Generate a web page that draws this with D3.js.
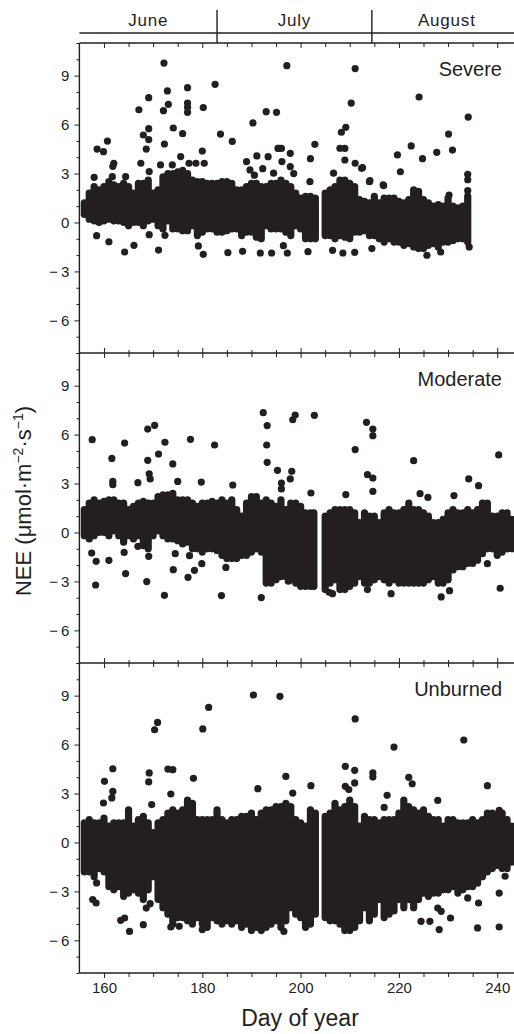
<!DOCTYPE html>
<html>
<head>
<meta charset="utf-8">
<script src="https://cdn.jsdelivr.net/npm/d3@7"></script>
<style>
  body { margin: 0; background: #fff; }
  svg { display: block; font-family: "Liberation Sans", Arial, sans-serif; }
</style>
</head>
<body>
<svg id="chart" width="514" height="1034"></svg>
<script>
// month header
const months = ["June", "July", "August"];
const monthEdges = [155, 183, 214.5, 245];
const panelNames = ["Severe", "Moderate", "Unburned"];
const xTickValues = d3.range(160, 245, 5);
const xLabelValues = [160, 180, 200, 220, 240];
const yTickValues = d3.range(-8, 12, 1);
const yLabelValues = [-6, -3, 0, 3, 6, 9];

// dense core of each panel: [day, low, high] (NEE)
const severeBands = [
  [156, 0.5, 1.2], [157, 0.2, 1.8], [158, 0.1, 2.2], [159, 0.0, 2.0], [160, 0.1, 2.2],
  [161, 0.2, 2.5], [162, 0.1, 2.3], [163, 0.1, 2.2], [164, 0.0, 2.4], [165, -0.2, 2.2],
  [166, 0.0, 1.8], [167, 0.0, 2.4], [168, -0.2, 2.4], [169, 0.1, 2.6], [170, 0.2, 1.8],
  [171, -0.2, 2.0], [172, -0.4, 2.8], [173, 0.1, 3.0], [174, -0.4, 3.0], [175, -0.4, 3.1],
  [176, -0.5, 3.2], [177, -0.5, 3.0], [178, -0.2, 2.6], [179, -0.8, 2.5], [180, -0.6, 2.5],
  [181, -0.4, 2.4], [182, -0.4, 2.4], [183, -0.6, 2.4], [184, -0.6, 2.5], [185, -0.5, 2.5],
  [186, -0.4, 2.4], [187, -0.4, 2.0], [188, -0.8, 2.0], [189, -0.6, 2.2], [190, -0.6, 2.4],
  [191, -0.9, 2.4], [192, -1.0, 2.2], [193, -0.2, 2.2], [194, -0.4, 2.4], [195, -0.4, 2.4],
  [196, -0.4, 2.6], [197, -0.6, 2.4], [198, -0.8, 2.2], [199, -0.2, 1.8], [200, -0.4, 1.5],
  [201, -1.0, 1.6], [202, -1.0, 1.6], [203, -1.0, 1.5],
  [205, -0.8, 1.8], [206, -0.8, 2.0], [207, -1.0, 2.2], [208, -0.8, 2.6], [209, -0.9, 2.6],
  [210, -1.0, 2.4], [211, -0.6, 2.2], [212, -0.6, 1.4], [213, -0.5, 1.3], [214, -0.8, 1.2],
  [215, -0.8, 1.6], [216, -1.0, 1.2], [217, -1.2, 1.5], [218, -1.0, 1.5], [219, -1.2, 1.5],
  [220, -1.2, 1.3], [221, -1.4, 1.2], [222, -1.3, 1.4], [223, -1.5, 2.0], [224, -1.6, 1.9],
  [225, -1.6, 1.4], [226, -1.4, 1.2], [227, -1.3, 1.0], [228, -1.5, 1.1], [229, -1.2, 1.0],
  [230, -1.2, 1.5], [231, -1.1, 1.0], [232, -1.0, 0.9], [233, -1.0, 1.0], [234, -1.2, 1.6]
];
const severeDots = [
  [172.2, 9.77], [197.2, 9.61], [211.1, 9.43], [182.6, 8.47], [177.0, 8.26], [172.9, 8.06],
  [169.1, 7.65], [224.1, 7.69], [173.1, 7.24], [167.1, 6.91], [172.1, 6.85], [177.0, 7.32],
  [177.0, 7.06], [177.0, 6.75], [180.2, 7.04], [193.0, 6.79], [195.1, 6.75], [210.3, 7.32],
  [234.1, 6.46], [190.3, 6.10], [169.1, 5.75], [174.1, 5.79], [168.0, 5.36], [169.1, 5.08],
  [168.6, 4.50], [176.0, 5.44], [183.7, 5.42], [186.1, 4.97], [209.2, 5.83], [208.3, 5.53],
  [230.1, 5.42], [160.7, 4.99], [158.6, 4.50], [159.9, 4.34], [172.3, 4.81], [202.9, 4.79],
  [222.5, 4.69], [230.9, 4.44], [227.7, 4.30], [219.7, 4.14], [180.0, 4.38], [195.4, 4.54],
  [196.1, 4.54], [209.0, 4.54], [202.0, 3.91], [224.8, 3.91], [212.6, 3.36], [220.3, 3.11],
  [234.0, 2.95], [234.0, 2.62], [234.0, 1.95], [214.1, 2.56], [216.9, 2.26], [230.2, 1.68],
  [158.0, 2.77], [161.8, 3.44], [162.0, 3.63], [167.5, 3.63], [169.2, 3.12], [164.4, 2.81],
  [161.7, 2.81], [171.5, 3.53], [173.9, 3.53], [175.6, 4.04], [177.3, 3.63], [178.7, 3.63],
  [180.4, 3.63], [189.0, 3.73], [191.1, 4.08], [193.4, 4.03], [195.5, 4.55], [197.9, 4.24],
  [196.2, 3.73], [197.9, 3.42], [189.7, 3.22], [194.5, 3.02], [208.0, 4.55], [209.0, 3.83],
  [211.1, 3.63], [212.4, 3.32], [214.0, 2.50], [216.8, 2.30], [206.7, 3.02], [201.9, 2.50],
  [190.6, 2.9], [192.3, 3.3], [198.6, 3.0],
  [158.5, -0.81], [161.0, -1.18], [164.2, -1.81], [166.1, -1.40], [171.1, -1.69], [172.4, -0.79],
  [169.2, -0.75], [180.2, -1.95], [179.2, -1.44], [185.2, -1.85], [188.2, -1.77], [191.8, -1.87],
  [194.1, -1.87], [197.3, -1.87], [196.5, -1.42], [201.5, -1.79], [206.5, -1.71], [208.6, -1.87],
  [211.0, -1.83], [214.5, -1.60], [225.7, -2.01], [228.5, -1.81], [234.3, -1.50]
];

const moderateBands = [
  [156, -0.2, 1.4], [157, -0.4, 1.8], [158, -0.2, 2.0], [159, 0.0, 1.8], [160, 0.0, 1.9],
  [161, -0.2, 2.0], [162, 0.1, 2.0], [163, -0.2, 1.8], [164, -0.6, 1.8], [165, -0.2, 1.4],
  [166, -0.4, 1.6], [167, -0.2, 1.8], [168, -0.8, 1.9], [169, -1.0, 1.8], [170, -0.2, 1.8],
  [171, 0.1, 2.2], [172, -0.2, 2.3], [173, -0.4, 2.3], [174, -0.4, 2.4], [175, -0.5, 2.0],
  [176, -0.7, 2.0], [177, -0.6, 2.0], [178, -1.0, 1.8], [179, -1.0, 1.6], [180, -1.2, 1.8],
  [181, -1.0, 1.8], [182, -1.0, 1.9], [183, -1.1, 1.8], [184, -1.4, 2.0], [185, -1.6, 1.8],
  [186, -1.6, 2.0], [187, -1.6, 1.4], [188, -1.4, 1.0], [189, -1.4, 1.8], [190, -1.2, 2.2],
  [191, -1.0, 2.2], [192, -1.2, 1.8], [193, -3.1, 2.0], [194, -3.1, 1.8], [195, -2.9, 1.6],
  [196, -2.7, 2.0], [197, -2.7, 1.4], [198, -2.9, 1.8], [199, -3.1, 1.8], [200, -3.3, 1.6],
  [201, -3.3, 1.2], [202, -3.3, 1.2], [202.7, -3.3, 1.2],
  [205, -3.5, 1.0], [206, -3.1, 1.2], [207, -2.9, 1.4], [208, -3.5, 1.4], [209, -3.5, 1.4],
  [210, -3.3, 1.4], [211, -3.1, 1.2], [212, -2.7, 0.6], [213, -3.1, 1.2], [214, -3.1, 1.0],
  [215, -2.9, 1.0], [216, -2.7, 0.6], [217, -2.9, 1.2], [218, -3.1, 1.4], [219, -2.9, 1.2],
  [220, -3.1, 1.2], [221, -3.1, 1.4], [222, -3.1, 1.8], [223, -3.1, 1.4], [224, -3.1, 1.4],
  [225, -3.1, 1.2], [226, -2.9, 1.0], [227, -2.7, 0.6], [228, -3.1, 0.6], [229, -3.1, 0.8],
  [230, -2.9, 1.2], [231, -2.3, 1.4], [232, -2.1, 1.2], [233, -2.1, 1.2], [234, -1.9, 1.4],
  [235, -1.9, 1.2], [236, -1.7, 1.4], [237, -1.3, 1.8], [238, -1.0, 1.8], [239, -1.0, 1.0],
  [240, -1.4, 1.0], [241, -1.2, 1.2], [242, -1.0, 1.2], [243, -1.0, 0.8]
];
const moderateDots = [
  [157.6, 5.69], [161.6, 4.54], [164.2, 5.48], [161.8, 3.13], [161.8, 2.93], [166.9, 3.05],
  [168.9, 6.34], [170.3, 6.57], [168.9, 4.42], [171.1, 4.81], [169.2, 3.60], [169.4, 3.28],
  [172.4, 5.53], [174.0, 4.20], [175.0, 3.13], [177.6, 5.71], [179.8, 3.09], [182.5, 5.36],
  [186.2, 2.91], [192.4, 7.34], [193.2, 6.55], [193.1, 5.36], [193.2, 4.30], [195.3, 3.81],
  [196.1, 3.03], [196.1, 2.67], [198.4, 6.91], [198.9, 7.20], [202.8, 7.18], [198.2, 3.75],
  [197.9, 3.28], [202.1, 2.42], [211.1, 5.08], [213.4, 6.75], [214.7, 6.34], [214.7, 5.93],
  [213.6, 3.54], [214.7, 3.34], [214.7, 2.52], [209.2, 2.32], [223.0, 4.40], [224.3, 2.38],
  [225.9, 2.15], [231.2, 2.26], [234.2, 3.28], [236.2, 2.87], [240.3, 4.75],
  [157.5, -1.26], [158.4, -1.77], [158.3, -3.22], [161.0, -1.71], [164.4, -2.52], [164.1, -1.22],
  [166.9, -0.85], [168.7, -3.01], [169.1, -1.46], [172.3, -3.85], [174.1, -2.28], [174.5, -1.30],
  [177.4, -1.42], [177.1, -2.75], [178.4, -2.32], [179.9, -1.91], [183.9, -3.87], [184.8, -2.14],
  [192.0, -3.99], [197.5, -2.99], [205.8, -3.67], [206.5, -3.75], [213.6, -3.50], [218.4, -3.75],
  [228.6, -3.95], [230.3, -3.57], [238.0, -1.91], [240.6, -3.42]
];

const unburnedBands = [
  [156, -1.8, 1.2], [157, -1.8, 1.4], [158, -2.1, 1.2], [159, -1.6, 1.2], [160, -1.8, 1.5],
  [161, -2.7, 1.0], [162, -2.9, 1.2], [163, -2.7, 1.2], [164, -3.3, 1.2], [165, -3.1, 2.0],
  [166, -2.9, 1.0], [167, -3.1, 1.4], [168, -3.5, 1.6], [169, -2.9, 1.2], [170, -2.1, 0.6],
  [171, -3.5, 1.2], [172, -4.0, 1.4], [173, -4.4, 1.8], [174, -5.0, 2.0], [175, -4.6, 1.8],
  [176, -4.6, 2.0], [177, -4.8, 2.6], [178, -5.0, 2.4], [179, -4.6, 1.4], [180, -5.0, 1.4],
  [181, -5.2, 1.4], [182, -4.6, 1.4], [183, -4.8, 2.0], [184, -5.0, 1.4], [185, -4.8, 1.2],
  [186, -5.0, 1.4], [187, -4.8, 1.4], [188, -5.2, 1.6], [189, -5.0, 1.6], [190, -5.4, 1.8],
  [191, -5.2, 1.4], [192, -5.4, 1.8], [193, -5.2, 2.0], [194, -5.0, 2.0], [195, -4.8, 2.2],
  [196, -5.2, 2.2], [197, -4.8, 2.4], [198, -4.0, 2.2], [199, -4.4, 1.4], [200, -4.6, 1.2],
  [201, -5.2, 1.0], [202, -5.0, 2.0], [203, -4.4, 1.8],
  [205, -4.6, 1.6], [206, -4.8, 1.8], [207, -4.8, 2.4], [208, -5.0, 2.0], [209, -5.4, 2.2],
  [210, -5.4, 2.6], [211, -5.2, 2.2], [212, -4.8, 1.0], [213, -4.0, 1.6], [214, -4.8, 1.4],
  [215, -4.4, 1.4], [216, -3.5, 1.2], [217, -4.6, 1.4], [218, -4.4, 1.4], [219, -4.2, 1.4],
  [220, -3.5, 1.8], [221, -4.0, 2.6], [222, -3.5, 2.2], [223, -4.0, 2.0], [224, -3.5, 1.8],
  [225, -3.1, 2.0], [226, -3.3, 1.6], [227, -3.1, 1.4], [228, -3.1, 1.4], [229, -2.9, 1.0],
  [230, -2.9, 1.4], [231, -2.7, 1.4], [232, -3.1, 1.2], [233, -2.9, 1.2], [234, -2.7, 1.2],
  [235, -2.7, 1.4], [236, -2.5, 1.2], [237, -2.1, 1.4], [238, -1.8, 1.8], [239, -1.6, 1.8],
  [240, -1.4, 1.7], [241, -1.6, 1.8], [242, -1.6, 1.4], [243, -1.2, 1.0]
];
const unburnedDots = [
  [190.4, 9.04], [195.8, 8.96], [181.3, 8.28], [180.1, 6.96], [170.9, 7.36], [170.3, 6.91],
  [211.1, 7.57], [219.0, 5.85], [233.2, 6.28], [161.8, 4.52], [160.1, 3.75], [161.8, 3.13],
  [161.6, 2.73], [159.9, 2.42], [169.2, 4.26], [169.1, 3.71], [173.0, 4.50], [174.0, 4.46],
  [173.6, 2.97], [178.2, 3.93], [169.7, 2.32], [191.3, 3.30], [197.0, 4.05], [198.4, 3.03],
  [202.1, 3.48], [209.1, 4.67], [211.0, 4.42], [214.7, 4.26], [214.7, 4.01], [209.1, 3.44],
  [209.8, 3.24], [211.0, 3.65], [222.0, 3.99], [222.7, 3.60], [238.0, 3.48], [217.6, 2.89],
  [227.9, 2.58], [217.0, 2.15], [240.4, 1.97],
  [157.7, -3.50], [158.4, -3.71], [158.5, -2.48], [163.4, -4.77], [164.2, -4.63], [165.2, -5.45],
  [168.0, -5.04], [168.6, -4.02], [169.4, -3.75], [173.6, -5.18], [175.3, -5.14], [180.0, -5.34],
  [196.6, -5.45], [224.5, -4.83], [226.3, -4.83], [228.2, -5.34], [230.5, -4.63], [236.0, -5.24],
  [240.4, -5.18], [240.4, -3.10], [241.6, -2.07], [236.2, -3.71], [234.0, -3.40], [227.9, -4.02],
  [228.6, -4.22]
];

const bandsByPanel = [severeBands, moderateBands, unburnedBands];
const dotsByPanel = [severeDots, moderateDots, unburnedDots];

const ink = "#231f20";
const dotR = 3.6;
const left = 79.4, right = 521.8;
const plotTop = 43, panelH = 310;

const svg = d3.select("#chart");

const x = d3.scaleLinear().domain([155, 245]).range([left, right]);

// month strip above the top panel
svg.append("line")
  .attr("x1", left).attr("x2", right)
  .attr("y1", 33).attr("y2", 33)
  .attr("stroke", ink).attr("stroke-width", 1.4);

svg.selectAll(".month-div")
  .data(monthEdges.slice(1, -1))
  .join("line")
  .attr("class", "month-div")
  .attr("x1", d => x(d)).attr("x2", d => x(d))
  .attr("y1", 10).attr("y2", plotTop)
  .attr("stroke", ink).attr("stroke-width", 1.4);

svg.selectAll(".month")
  .data(months)
  .join("text")
  .attr("class", "month")
  .attr("x", (d, i) => x((monthEdges[i] + monthEdges[i + 1]) / 2))
  .attr("y", 26)
  .attr("text-anchor", "middle")
  .attr("font-size", 17)
  .attr("letter-spacing", 0.8)
  .attr("fill", ink)
  .text(d => d);

function tickLen(major, minor) {
  return d => xLabelValues.includes(d) ? major : minor;
}

panelNames.forEach((name, i) => {
  const top = plotTop + i * panelH;
  const bottom = top + panelH;
  const y = d3.scaleLinear().domain([-8, 11]).range([bottom, top]);
  const g = svg.append("g");

  // core bands, drawn as round-capped strokes one dot wide
  g.selectAll(".band")
    .data(bandsByPanel[i])
    .join("line")
    .attr("x1", d => x(d[0])).attr("x2", d => x(d[0]))
    .attr("y1", d => y(d[1])).attr("y2", d => y(d[2]))
    .attr("stroke", ink)
    .attr("stroke-width", dotR * 2)
    .attr("stroke-linecap", "round");

  g.selectAll(".dot")
    .data(dotsByPanel[i])
    .join("circle")
    .attr("cx", d => x(d[0]))
    .attr("cy", d => y(d[1]))
    .attr("r", dotR)
    .attr("fill", ink);

  // y axis
  const yAxis = d3.axisLeft(y)
    .tickValues(yTickValues)
    .tickSize(3)
    .tickFormat(d => yLabelValues.includes(d) ? (d < 0 ? "\u2212\u2009" + Math.abs(d) : d) : "");
  const ya = g.append("g").attr("transform", `translate(${left},0)`).call(yAxis);
  ya.select(".domain").remove();
  ya.selectAll(".tick line")
    .attr("x2", d => yLabelValues.includes(d) ? -5 : -3)
    .attr("stroke", ink).attr("stroke-width", 1);
  ya.selectAll(".tick text")
    .attr("x", -10)
    .attr("font-size", 15)
    .attr("font-family", "Liberation Sans, Arial, sans-serif")
    .attr("fill", ink);

  // frame lines
  g.append("line")
    .attr("x1", left).attr("x2", left)
    .attr("y1", top).attr("y2", bottom)
    .attr("stroke", ink).attr("stroke-width", 1.4);
  g.append("line")
    .attr("x1", left).attr("x2", right)
    .attr("y1", top).attr("y2", top)
    .attr("stroke", ink).attr("stroke-width", 1.4);

  // x ticks along the top edge of the panel (inward)
  const ta = g.append("g").attr("transform", `translate(0,${top})`)
    .call(d3.axisBottom(x).tickValues(xTickValues).tickFormat(""));
  ta.select(".domain").remove();
  ta.selectAll(".tick line").attr("y2", tickLen(5, 4)).attr("stroke", ink);

  // ticks poking up above a shared edge
  if (i > 0) {
    const ua = g.append("g").attr("transform", `translate(0,${top})`)
      .call(d3.axisTop(x).tickValues(xTickValues).tickFormat(""));
    ua.select(".domain").remove();
    ua.selectAll(".tick line").attr("y2", tickLen(-5, -3)).attr("stroke", ink);
  }

  g.append("text")
    .attr("x", 502)
    .attr("y", top + 33)
    .attr("text-anchor", "end")
    .attr("font-size", 20)
    .attr("fill", ink)
    .text(name);

  // bottom axis with labels
  if (i === panelNames.length - 1) {
    g.append("line")
      .attr("x1", left).attr("x2", right)
      .attr("y1", bottom).attr("y2", bottom)
      .attr("stroke", ink).attr("stroke-width", 1.4);
    const ba = g.append("g").attr("transform", `translate(0,${bottom})`)
      .call(d3.axisBottom(x).tickValues(xTickValues)
        .tickFormat(d => xLabelValues.includes(d) ? d : ""));
    ba.select(".domain").remove();
    ba.selectAll(".tick line").attr("y2", tickLen(5, 4)).attr("stroke", ink);
    ba.selectAll(".tick text")
      .attr("y", 9)
      .attr("dy", "0.71em")
      .attr("font-size", 15)
      .attr("font-family", "Liberation Sans, Arial, sans-serif")
      .attr("fill", ink);
  }
});

svg.append("text")
  .attr("x", 300)
  .attr("y", 1026)
  .attr("text-anchor", "middle")
  .attr("font-size", 23)
  .attr("fill", ink)
  .text("Day of year");

const yl = svg.append("text")
  .attr("transform", "translate(31,501) rotate(-90)")
  .attr("text-anchor", "middle")
  .attr("font-size", 22)
  .attr("fill", ink);
yl.append("tspan").text("NEE (\u03bcmol\u00b7m");
yl.append("tspan").attr("dy", -8).attr("font-size", 14).text("\u22122");
yl.append("tspan").attr("dy", 8).text("\u00b7s");
yl.append("tspan").attr("dy", -8).attr("font-size", 14).text("\u22121");
yl.append("tspan").attr("dy", 8).text(")");
</script>
</body>
</html>
